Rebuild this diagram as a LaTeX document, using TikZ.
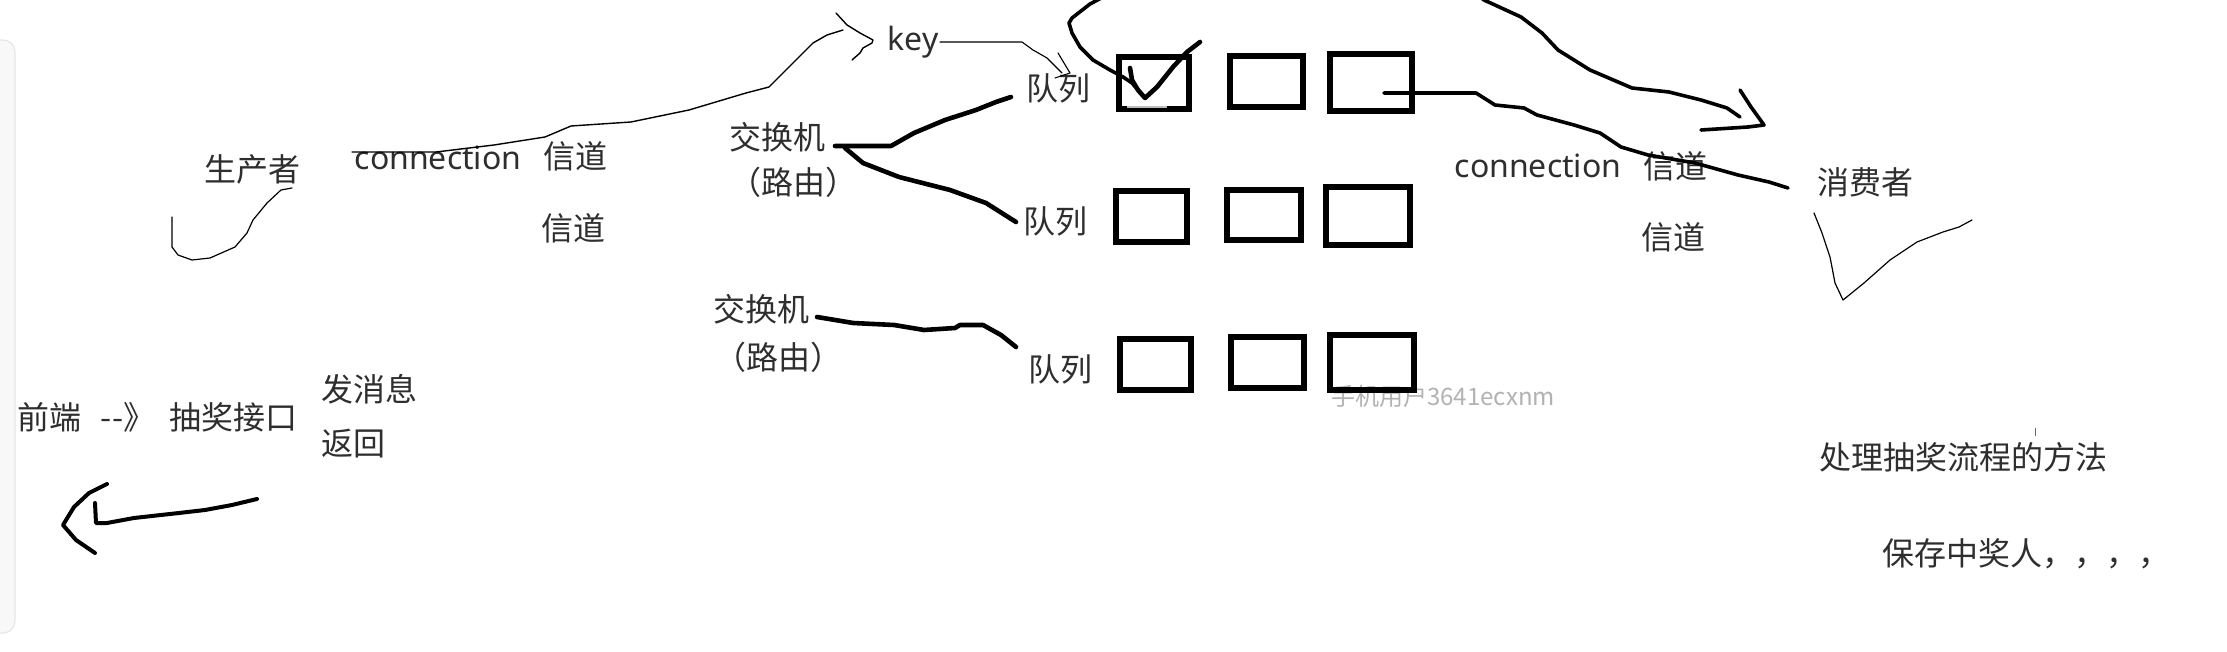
\documentclass[tikz,border=0pt]{standalone}
\usepackage{fontspec}
\setmainfont{Noto Sans CJK SC}
\newfontfamily\latinf{Noto Sans}
\definecolor{txt}{HTML}{2E2E2E}
\definecolor{panel}{HTML}{F8F8F8}
\definecolor{paneledge}{HTML}{E6E6E6}
\begin{document}
\begin{tikzpicture}[x=1pt,y=-1pt,
  lbl/.style={inner sep=0pt, anchor=base, text=txt, font=\fontsize{32}{38}\selectfont},
  lbllat/.style={lbl, font=\fontsize{32}{38}\selectfont\latinf},
  thinpen/.style={draw=black, line width=1.4pt, line cap=round, line join=round},
  midpen/.style={draw=black, line width=3.6pt, line cap=round, line join=round},
  thickpen/.style={draw=black, line width=4.6pt, line cap=round, line join=round},
  qbox/.style={draw=black, line width=6pt, inner sep=0pt}]
\useasboundingbox (0,0) rectangle (2227,652);
\clip (0,0) rectangle (2227,652);
\fill[white] (0,0) rectangle (2227,652);
% left panel edge
\draw[draw=paneledge, fill=panel, line width=1.2pt, rounded corners=12pt] (-30,40) rectangle (15,633);
% watermark
\node[inner sep=0pt, anchor=base west, text=black!30, font=\fontsize{24}{28}\selectfont] (wm) at (1331,405) {手机用户3641ecxnm};

% labels
\node[lbl] (prod) at (252,182) {生产者};
\node[lbllat] (conn1) at (438,170) {connection};
\node[lbl] (ch1) at (575,169) {信道};
\node[lbl] (ch2) at (573,241) {信道};
\node[lbl] (ex1) at (777,150) {交换机};
\node[lbl] (rt1) at (793,195) {（路由）};
\node[lbllat] (key) at (913,51) {key};
\node[lbl] (ql1) at (1058,101) {队列};
\node[lbl] (ql2) at (1055,234) {队列};
\node[lbl] (ex2) at (761,322) {交换机};
\node[lbl] (rt2) at (778,369) {（路由）};
\node[lbl] (ql3) at (1060,381) {队列};
\node[lbllat] (conn2) at (1538,178) {connection};
\node[lbl] (ch3) at (1675,179) {信道};
\node[lbl] (ch4) at (1673,250) {信道};
\node[lbl] (cons) at (1865,195) {消费者};
\node[lbl, anchor=base west] (fe) at (17,429) {前端};
\node[lbl, anchor=base west] (arr) at (100,429) {-\kern1pt-》};
\node[lbl] (api) at (233,429) {抽奖接口};
\node[lbl] (send) at (369,401) {发消息};
\node[lbl] (ret) at (353,455) {返回};
\node[lbl] (proc) at (1963,469) {处理抽奖流程的方法};
\node[lbl, anchor=base west] (save) at (1882,565) {保存中奖人，，，，};

% queue boxes
\node[qbox, minimum width=70pt, minimum height=52pt] (b11) at (1154,83) {};
\node[qbox, minimum width=73pt, minimum height=51pt] (b12) at (1266.5,81.5) {};
\node[qbox, minimum width=82pt, minimum height=57pt] (b13) at (1371,82.5) {};
\node[qbox, minimum width=71pt, minimum height=51pt] (b21) at (1151.5,216.5) {};
\node[qbox, minimum width=74pt, minimum height=50pt] (b22) at (1264,215) {};
\node[qbox, minimum width=84pt, minimum height=58pt] (b23) at (1368,216) {};
\node[qbox, minimum width=71pt, minimum height=51pt] (b31) at (1155.5,364.5) {};
\node[qbox, minimum width=73pt, minimum height=51pt] (b32) at (1267.5,362.5) {};
\node[qbox, minimum width=84pt, minimum height=55pt] (b33) at (1372,362.5) {};
\draw[black!25, line width=1.5pt] (1127,107) -- (1167,107);

% named free ends
\coordinate (pc0) at (352,152);
\coordinate (ktip) at (873,40);
\coordinate (k0) at (940,42);
\coordinate (k1) at (1062,73);
\coordinate (e1a) at (835,146);
\coordinate (q1in) at (1011,97);
\coordinate (e1b) at (845,148);
\coordinate (q2in) at (1016,222);
\coordinate (e2a) at (817,317);
\coordinate (q3in) at (1016,347);
\coordinate (topA) at (1105,-4);
\coordinate (topB) at (1476,-6);
\coordinate (ctip) at (1764,125);
\coordinate (b3out) at (1384,93);
\coordinate (consin) at (1788,188);

% producer connection to key
\draw[thinpen] (pc0) -- (436,152) -- (494,145) -- (545,137) -- (571,126) -- (631,122) -- (689,110) -- (746,93) -- (769,87) -- (786,70) -- (804,52) -- (813,43) -- (827,35) -- (843,30);
\draw[thinpen] (836,13) -- (847,25) -- (860,33) -- (ktip) -- (872,43) -- (863,48) -- (860,53) -- (852,60);
% key to queue 1
\draw[thinpen, line width=1.1pt] (k0) -- (1022,42) -- (1033,50) -- (1047,58) -- (k1);
\draw[thinpen, line width=1.1pt] (1058,53) -- (1070,73) -- (1055,78);

% exchange connectors
\draw[thickpen] (e1a) -- (891,146) -- (914,133) -- (945,120) -- (976,110) -- (996,102) -- (q1in);
\draw[thickpen] (e1b) -- (863,163) -- (899,177) -- (950,190) -- (986,203) -- (q2in);
\draw[thickpen] (e2a) -- (853,323) -- (894,325) -- (924,330) -- (955,328) -- (960,325) -- (983,325) -- (1001,335) -- (q3in);

% check mark in first box
\draw[thickpen] (1130,68) -- (1132,80) -- (1138,90) -- (1145,98) -- (1157,87) -- (1173,67) -- (1187,52) -- (1200,42);
% loop from top into first box
\draw[midpen] (topA) -- (1090,4) -- (1072,18) -- (1069,23) -- (1072,33) -- (1080,47) -- (1093,60) -- (1110,70) -- (1123,77) -- (1132,83) -- (1138,90);

% top-right curve with arrow head
\draw[midpen] (topB) -- (1484,0) -- (1521,17) -- (1542,33) -- (1558,50) -- (1590,70) -- (1632,88) -- (1669,92) -- (1701,100) -- (1727,108) -- (1740,117);
\draw[midpen] (1740,90) -- (1751,107) -- (ctip) -- (1748,127) -- (1701,130);

% box 3 to consumer
\draw[midpen] (b3out) -- (1476,93) -- (1495,105) -- (1524,108) -- (1537,115) -- (1574,125) -- (1600,133) -- (1621,147) -- (1648,155) -- (1695,163) -- (1738,175) -- (1769,182) -- (consin);

% producer tick
\draw[thinpen, line width=1.2pt] (292,188) -- (281,190) -- (267,203) -- (253,220) -- (247,233) -- (235,247) -- (210,258) -- (192,260) -- (178,255) -- (172,247) -- (172,217);
% consumer tick
\draw[thinpen, line width=1.2pt] (1814,213) -- (1822,233) -- (1830,257) -- (1835,283) -- (1843,300) -- (1864,283) -- (1890,260) -- (1917,242) -- (1943,232) -- (1959,227) -- (1972,220);

% return arrow
\draw[thickpen, line width=4pt] (257,499) -- (232,505) -- (205,510) -- (179,513) -- (134,518) -- (107,523) -- (96,523) -- (95,503);
\draw[thickpen, line width=4pt] (107,484) -- (89,493) -- (74,507) -- (63,525) -- (76,540) -- (95,553);

% tiny mark
\draw[black!60, line width=1pt] (2035,428) -- (2035,436);
\end{tikzpicture}
\end{document}
